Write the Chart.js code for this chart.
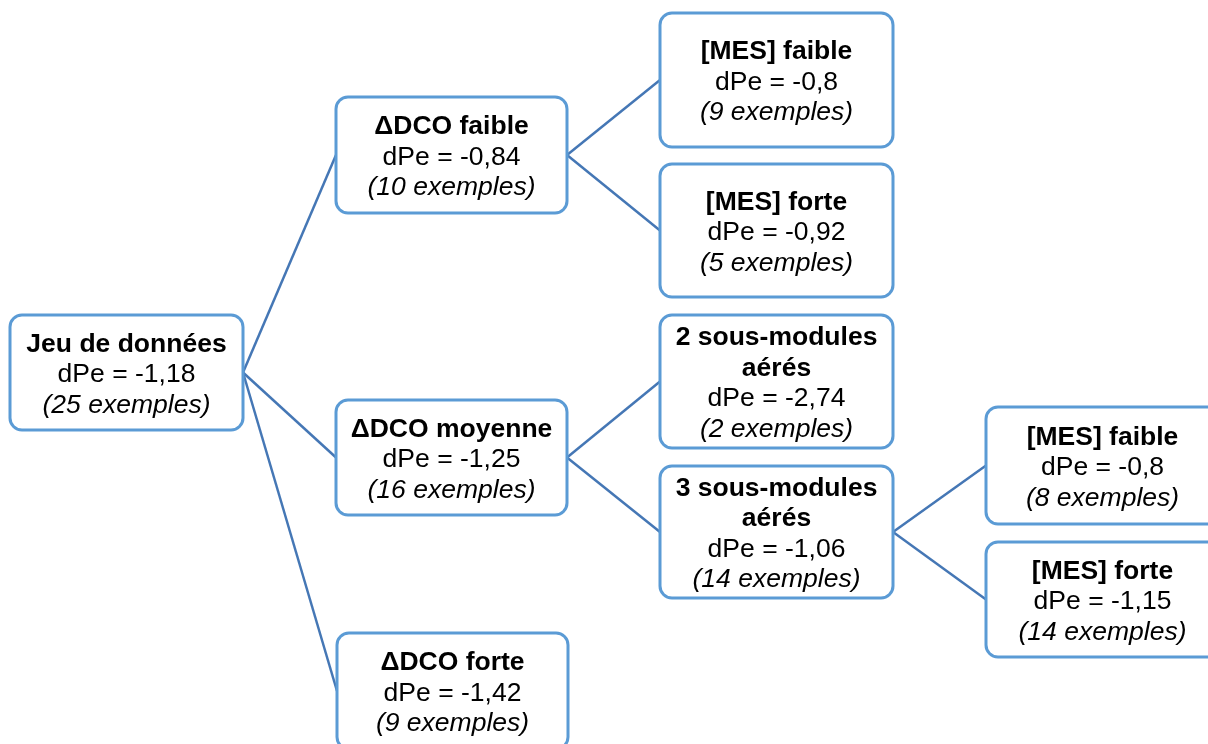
<!DOCTYPE html>
<html>
<head>
<meta charset="utf-8">
<title>Arbre dPe</title>
<script src="https://cdn.jsdelivr.net/npm/chart.js@4/dist/chart.umd.min.js"></script>
<style>
    html, body { margin: 0; padding: 0; background: #fff; }
    #tree-chart { display: block; }
</style>
</head>
<body>
<canvas id="tree-chart" width="1208" height="744"></canvas>
<script>
// Node contents (one entry per box)
const nodeTitles = [
    ['Jeu de données'],
    ['\u0394DCO faible'],
    ['\u0394DCO moyenne'],
    ['\u0394DCO forte'],
    ['[MES] faible'],
    ['[MES] forte'],
    ['2 sous-modules', 'aérés'],
    ['3 sous-modules', 'aérés'],
    ['[MES] faible'],
    ['[MES] forte']
];
const nodeDpe = ['-1,18', '-0,84', '-1,25', '-1,42', '-0,8', '-0,92', '-2,74', '-1,06', '-0,8', '-1,15'];
const nodeCounts = [25, 10, 16, 9, 9, 5, 2, 14, 8, 14];
// parent index of each node (-1 = root)
const nodeParents = [-1, 0, 0, 0, 1, 1, 2, 2, 7, 7];

// Box layout in chart units: [left, top, width, height]
const boxLayout = [
    [10, 315, 233, 115],
    [336, 97, 231, 116],
    [336, 400, 231, 115],
    [337, 633, 231, 116],
    [660, 13, 233, 134],
    [660, 164, 233, 133],
    [660, 315, 233, 133],
    [660, 466, 233, 132],
    [986, 407, 233, 117],
    [986, 542, 233, 115]
];

const FONT = '"Liberation Sans", Arial, Helvetica, sans-serif';
const BOX_BORDER = '#5b9bd5';
const LINK_COLOR = '#4577b5';

// one line dataset per parent -> child link
const linkDatasets = nodeParents.map((parent, i) => {
    if (parent < 0) return null;
    const [pl, pt, pw, ph] = boxLayout[parent];
    const [cl, ct, cw, ch] = boxLayout[i];
    return {
        data: [{ x: pl + pw, y: pt + ph / 2 }, { x: cl, y: ct + ch / 2 }],
        showLine: true,
        borderColor: LINK_COLOR,
        borderWidth: 2.5,
        pointRadius: 0,
        fill: false
    };
}).filter(ds => ds);

const nodeBoxes = {
    id: 'nodeBoxes',
    afterDatasetsDraw(chart) {
        const { ctx, scales: { x, y } } = chart;
        ctx.save();
        boxLayout.forEach(([left, top, w, h], i) => {
            const x0 = x.getPixelForValue(left);
            const x1 = x.getPixelForValue(left + w);
            const y0 = y.getPixelForValue(top);
            const y1 = y.getPixelForValue(top + h);
            ctx.beginPath();
            ctx.roundRect(x0, y0, x1 - x0, y1 - y0, 12);
            ctx.fillStyle = '#fff';
            ctx.fill();
            ctx.lineWidth = 3;
            ctx.strokeStyle = BOX_BORDER;
            ctx.stroke();

            // text lines: bold title(s), dPe, italic count
            const lines = nodeTitles[i].map(t => ({ text: t, font: 'bold 26.5px ' + FONT }));
            lines.push({ text: 'dPe = ' + nodeDpe[i], font: '26.5px ' + FONT });
            lines.push({ text: '(' + nodeCounts[i] + ' exemples)', font: 'italic 26.5px ' + FONT });

            const cx = (x0 + x1) / 2;
            const cy = (y0 + y1) / 2;
            const step = 30.5;
            ctx.fillStyle = '#000';
            ctx.textAlign = 'center';
            ctx.textBaseline = 'alphabetic';
            lines.forEach((ln, k) => {
                ctx.font = ln.font;
                ctx.fillText(ln.text, cx, cy + 9.5 + (k - (lines.length - 1) / 2) * step);
            });
        });
        ctx.restore();
    }
};

new Chart(document.getElementById('tree-chart'), {
    type: 'scatter',
    data: { datasets: linkDatasets },
    options: {
        responsive: false,
        animation: false,
        devicePixelRatio: 1,
        layout: { padding: 0 },
        scales: {
            x: { type: 'linear', min: 0, max: 1208, display: false },
            y: { type: 'linear', min: 0, max: 744, reverse: true, display: false }
        },
        plugins: {
            legend: { display: false },
            tooltip: { enabled: false }
        }
    },
    plugins: [nodeBoxes]
});
</script>
</body>
</html>
